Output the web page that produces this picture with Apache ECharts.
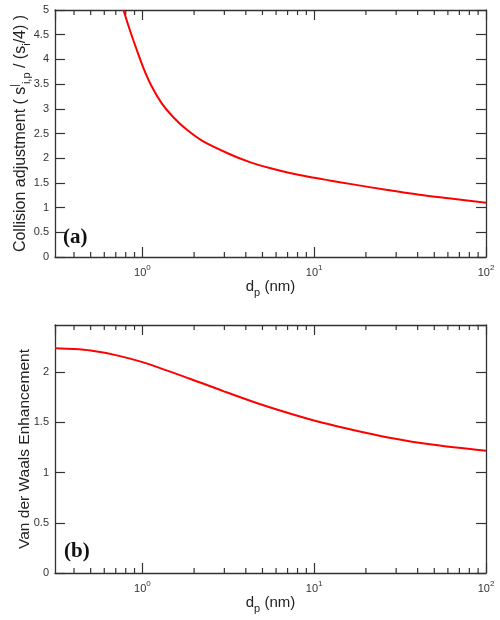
<!DOCTYPE html>
<html>
<head>
<meta charset="utf-8">
<script src="https://cdn.jsdelivr.net/npm/echarts@6/dist/echarts.min.js"></script>
<style>
html,body{margin:0;padding:0;background:#fff;}
#c{width:500px;height:620px;}
</style>
</head>
<body>
<div id="c"></div>
<script>
// ---- data ----
const dpA = [0.776, 0.848, 0.928, 1.013, 1.134, 1.296, 1.514, 1.81, 2.26, 3.23, 4.22, 5.51, 7.21, 9.42, 12.3, 16.8, 26.2, 41, 64, 100];
const collisionA = [5.0, 4.58, 4.19, 3.83, 3.45, 3.11, 2.83, 2.58, 2.34, 2.08, 1.92, 1.80, 1.70, 1.62, 1.55, 1.47, 1.36, 1.26, 1.18, 1.10];
const dpB = [0.31, 0.4, 0.5, 0.7, 1.0, 1.89, 2.95, 4.62, 7.21, 11.2, 17.6, 27.4, 42.8, 67, 100];
const vdwB = [2.238, 2.23, 2.215, 2.17, 2.10, 1.935, 1.812, 1.693, 1.589, 1.496, 1.417, 1.348, 1.293, 1.249, 1.217];
const minorTicks = [0.4, 0.5, 0.6, 0.7, 0.8, 0.9, 2, 3, 4, 5, 6, 7, 8, 9, 20, 30, 40, 50, 60, 70, 80, 90];
const xMin = 0.31, xMax = 100;
const yMaxA = 5, yMaxB = 2.47;

const FONT = '"Liberation Sans", Arial, Helvetica, sans-serif';
const AXIS_COLOR = '#333';
const LABEL_COLOR = '#333';

function pow10Label(v) {
  const e = Math.round(Math.log10(v));
  return '{b|10}{s|' + e + '}';
}
const xLabelRich = {
  b: { fontSize: 11, lineHeight: 11, padding: [3, 0, 0, 0], verticalAlign: 'top', color: LABEL_COLOR, fontFamily: FONT },
  s: { fontSize: 8, lineHeight: 8, verticalAlign: 'top', color: LABEL_COLOR, fontFamily: FONT }
};
const xNameRich = {
  n: { fontSize: 15, lineHeight: 15, verticalAlign: 'top', color: '#222', fontFamily: FONT },
  sub: { fontSize: 11, lineHeight: 11, padding: [8, 0, 0, 0], verticalAlign: 'top', color: '#222', fontFamily: FONT }
};

function bottomX(gridIndex) {
  return {
    type: 'log', gridIndex: gridIndex, position: 'bottom', min: xMin, max: xMax,
    name: '{n|d}{sub|p}{n| (nm)}', nameLocation: 'middle', nameGap: 22,
    nameTextStyle: { rich: xNameRich, fontFamily: FONT },
    axisLine: { show: true, onZero: false, lineStyle: { color: AXIS_COLOR, width: 1.3 } },
    axisTick: { show: true, inside: true, length: 10, lineStyle: { color: AXIS_COLOR, width: 1.2 } },
    axisLabel: { show: true, showMinLabel: false, margin: 7, formatter: pow10Label, rich: xLabelRich },
    splitLine: { show: false }, minorTick: { show: false }
  };
}
function topX(gridIndex) {
  return {
    type: 'log', gridIndex: gridIndex, position: 'top', min: xMin, max: xMax,
    axisLine: { show: true, onZero: false, lineStyle: { color: AXIS_COLOR, width: 1.3 } },
    axisTick: { show: true, inside: true, length: 10, lineStyle: { color: AXIS_COLOR, width: 1.2 } },
    axisLabel: { show: false }, splitLine: { show: false }
  };
}
function leftY(gridIndex, max, name, nameGap, nameStyle) {
  return {
    type: 'value', gridIndex: gridIndex, position: 'left', min: 0, max: max, interval: 0.5,
    name: name, nameLocation: 'middle', nameGap: nameGap, nameRotate: 90, nameMoveOverlap: false,
    nameTextStyle: nameStyle,
    axisLine: { show: true, onZero: false, lineStyle: { color: AXIS_COLOR, width: 1.3 } },
    axisTick: { show: true, inside: true, length: 10, lineStyle: { color: AXIS_COLOR, width: 1.2 } },
    axisLabel: { show: true, showMaxLabel: max === 5, margin: 6, fontSize: 11, color: LABEL_COLOR, fontFamily: FONT,
      formatter: function (v) { return String(v); } },
    splitLine: { show: false }
  };
}
function rightY(gridIndex, max) {
  return {
    type: 'value', gridIndex: gridIndex, position: 'right', min: 0, max: max, interval: 0.5,
    axisLine: { show: true, onZero: false, lineStyle: { color: AXIS_COLOR, width: 1.3 } },
    axisTick: { show: true, inside: true, length: 10, lineStyle: { color: AXIS_COLOR, width: 1.2 } },
    axisLabel: { show: false }, splitLine: { show: false }
  };
}

const yNameA = '{n|Collision adjustment ( s}{sup||}{sub|i,p}{n| / (s}{sub|i}{n|/4) )}';
const yNameAStyle = {
  fontFamily: FONT,
  rich: {
    n: { fontSize: 16, lineHeight: 16, padding: [5, 0, 0, 0], verticalAlign: 'top', color: '#222', fontFamily: FONT },
    sup: { fontSize: 10, lineHeight: 10, padding: [2, 0, 0, 0], verticalAlign: 'top', color: '#222', fontFamily: FONT },
    sub: { fontSize: 11, lineHeight: 11, padding: [13, 0, 0, 0], verticalAlign: 'top', color: '#222', fontFamily: FONT }
  }
};
const yNameBStyle = { fontSize: 15.5, color: '#222', fontFamily: FONT };

function minorTickSeries(xAxisIndex, yAxisIndex) {
  return {
    type: 'custom', xAxisIndex: xAxisIndex, yAxisIndex: yAxisIndex, silent: true, clip: false,
    data: minorTicks.map(v => [v, 0]),
    encode: { x: 0, y: 1 },
    renderItem: function (params, api) {
      const x = api.coord([api.value(0), 0])[0];
      const cs = params.coordSys;
      const yb = cs.y + cs.height, yt = cs.y;
      const st = { stroke: AXIS_COLOR, lineWidth: 1.2 };
      return {
        type: 'group',
        children: [
          { type: 'line', shape: { x1: x, y1: yb, x2: x, y2: yb - 5 }, style: st },
          { type: 'line', shape: { x1: x, y1: yt, x2: x, y2: yt + 5 }, style: st }
        ]
      };
    }
  };
}

const chart = echarts.init(document.getElementById('c'), null, { renderer: 'canvas' });
chart.setOption({
  backgroundColor: '#fff',
  animation: false,
  grid: [
    { left: 55, top: 10, width: 431, height: 247, containLabel: false, outerBoundsMode: 'none' },
    { left: 55, top: 325, width: 431, height: 248, containLabel: false, outerBoundsMode: 'none' }
  ],
  xAxis: [bottomX(0), topX(0), bottomX(1), topX(1)],
  yAxis: [
    leftY(0, yMaxA, yNameA, 31, yNameAStyle), rightY(0, yMaxA),
    leftY(1, yMaxB, 'Van der Waals Enhancement', 22, yNameBStyle), rightY(1, yMaxB)
  ],
  graphic: [
    { type: 'text', left: 63, top: 227, style: { text: '(a)', font: 'bold 21px "Liberation Serif", "Times New Roman", serif', fill: '#111' } },
    { type: 'text', left: 64, top: 541, style: { text: '(b)', font: 'bold 21px "Liberation Serif", "Times New Roman", serif', fill: '#111' } }
  ],
  series: [
    {
      type: 'line', xAxisIndex: 0, yAxisIndex: 0, data: dpA.map((d, i) => [d, collisionA[i]]),
      smooth: 0.3, showSymbol: false, lineStyle: { color: '#ff0000', width: 2 }, clip: true
    },
    {
      type: 'line', xAxisIndex: 2, yAxisIndex: 2, data: dpB.map((d, i) => [d, vdwB[i]]),
      smooth: 0.3, showSymbol: false, lineStyle: { color: '#ff0000', width: 2 }, clip: true
    },
    minorTickSeries(0, 0),
    minorTickSeries(2, 2)
  ]
});
</script>
</body>
</html>
